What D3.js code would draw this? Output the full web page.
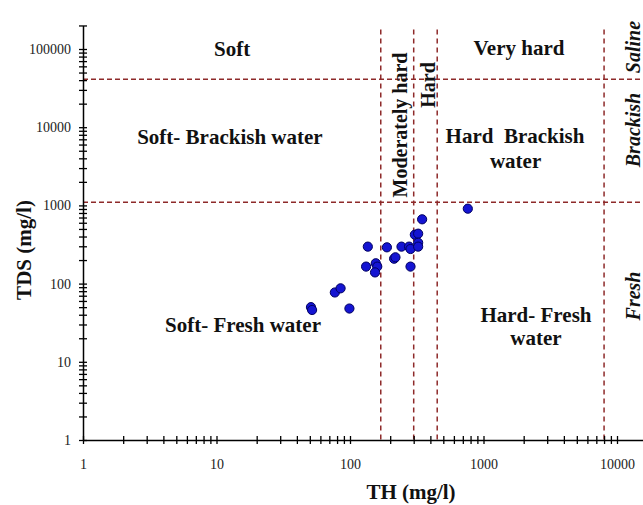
<!DOCTYPE html>
<html><head><meta charset="utf-8">
<script src="https://cdn.jsdelivr.net/npm/d3@7"></script>
<style>
html,body{margin:0;padding:0;background:#fff;}
svg{display:block;}
text{font-family:"Liberation Serif","Times New Roman",serif;}
</style></head>
<body>
<svg id="chart" width="643" height="505"></svg>
<script>
// Sample values
const thValues  = [51, 52, 77, 85, 99, 136, 132, 156, 160, 154, 189, 214, 219, 243, 277, 284, 284, 306, 324, 324, 324, 347, 763];
const tdsValues = [50, 46, 77, 87, 48, 297, 165, 182, 165, 139, 291, 208, 217, 297, 297, 277, 165, 422, 435, 333, 297, 664, 908];
// Classification boundaries
const thBounds  = [170, 300, 450, 8000];
const tdsBounds = [1100, 41000];
// Tick labels
const xTickLabels = [1, 10, 100, 1000, 10000];
const yTickLabels = [1, 10, 100, 1000, 10000, 100000];
// Zone labels (positioned in data units: TH, TDS)
const zoneLabels = [
  {t:"Soft", th:13.1, tds:81500},
  {t:"Very hard", th:1845, tds:83800},
  {t:"Soft- Brackish water", th:12.6, tds:6100},
  {t:"Hard  Brackish", th:1722, tds:6280},
  {t:"water", th:1740, tds:3010},
  {t:"Soft- Fresh water", th:15.8, tds:24.0},
  {t:"Hard- Fresh", th:2473, tds:32.3},
  {t:"water", th:2473, tds:16.4}
];

const svg = d3.select("#chart");
const x = d3.scaleLog().domain([1, 16000]).range([83, 83 + 133.5 * Math.log10(16000)]);
const y = d3.scaleLog().domain([1, 200000]).range([440, 440 - 78.2 * Math.log10(200000)]);

const dashColor = "#8e2a2a";
// dashed boundaries
svg.append("g").selectAll("line").data(tdsBounds).join("line")
  .attr("x1", x(1)).attr("x2", 643)
  .attr("y1", d => y(d)).attr("y2", d => y(d))
  .attr("stroke", dashColor).attr("stroke-width", 1.5).attr("stroke-dasharray", "5,3");
svg.append("g").selectAll("line").data(thBounds).join("line")
  .attr("x1", d => x(d)).attr("x2", d => x(d))
  .attr("y1", y(200000) + 4).attr("y2", y(1))
  .attr("stroke", dashColor).attr("stroke-width", 1.5).attr("stroke-dasharray", "5,4");

// axes
const xAxis = d3.axisBottom(x).tickSizeInner(4).tickSizeOuter(0)
  .tickFormat(d => xTickLabels.includes(d) ? d : "");
const gx = svg.append("g").attr("transform", `translate(0,${y(1)})`).call(xAxis);
gx.select(".domain").attr("stroke", "#000").attr("stroke-width", 1.5);
gx.selectAll(".tick line").attr("y1", -4).attr("y2", 4).attr("stroke", "#000").attr("stroke-width", 1.3);
gx.selectAll(".tick text").attr("y", 19).attr("dy", "0.71em")
  .style("font-family", "'Liberation Serif',serif").style("font-size", "14px").attr("fill", "#222");

const yAxis = d3.axisLeft(y).tickSizeInner(4).tickSizeOuter(0)
  .tickFormat(d => yTickLabels.includes(d) ? d : "");
const gy = svg.append("g").attr("transform", `translate(${x(1)},0)`).call(yAxis);
gy.select(".domain").attr("stroke", "#000").attr("stroke-width", 1.5);
gy.selectAll(".tick line").attr("x1", -4).attr("x2", 4).attr("stroke", "#000").attr("stroke-width", 1.3);
gy.selectAll(".tick text").attr("x", -12)
  .style("font-family", "'Liberation Serif',serif").style("font-size", "14px").attr("fill", "#222");

// points
const pts = thValues.map((v, i) => ({th: v, tds: tdsValues[i]}));
svg.append("g").selectAll("circle").data(pts).join("circle")
  .attr("cx", d => x(d.th)).attr("cy", d => y(d.tds)).attr("r", 4.6)
  .attr("fill", "#1414d2").attr("stroke", "#000060").attr("stroke-width", 1);

// zone labels
svg.append("g").selectAll("text").data(zoneLabels).join("text")
  .attr("x", d => x(d.th)).attr("y", d => y(d.tds))
  .attr("text-anchor", "middle").attr("font-weight", "bold").attr("font-size", 21)
  .style("white-space", "pre")
  .attr("fill", "#111").text(d => d.t);

// rotated labels
const rot = [
  {t:"Moderately hard", cx:407, cy:125, italic:false},
  {t:"Hard", cx:435, cy:85, italic:false},
  {t:"Saline", cx:640, cy:47, italic:true},
  {t:"Brackish", cx:640, cy:130, italic:true},
  {t:"Fresh", cx:640, cy:296, italic:true}
];
svg.append("g").selectAll("text").data(rot).join("text")
  .attr("transform", d => `translate(${d.cx},${d.cy}) rotate(-90)`)
  .attr("text-anchor", "middle").attr("font-weight", "bold").attr("font-size", 20)
  .attr("font-style", d => d.italic ? "italic" : "normal")
  .attr("fill", "#111").text(d => d.t);

// axis titles
svg.append("text").attr("x", 411).attr("y", 499).attr("text-anchor", "middle")
  .attr("font-weight", "bold").attr("font-size", 21).attr("fill", "#111").text("TH (mg/l)");
svg.append("text").attr("transform", "translate(31,250) rotate(-90)").attr("text-anchor", "middle")
  .attr("font-weight", "bold").attr("font-size", 21).attr("fill", "#111").text("TDS (mg/l)");
</script>
</body></html>
